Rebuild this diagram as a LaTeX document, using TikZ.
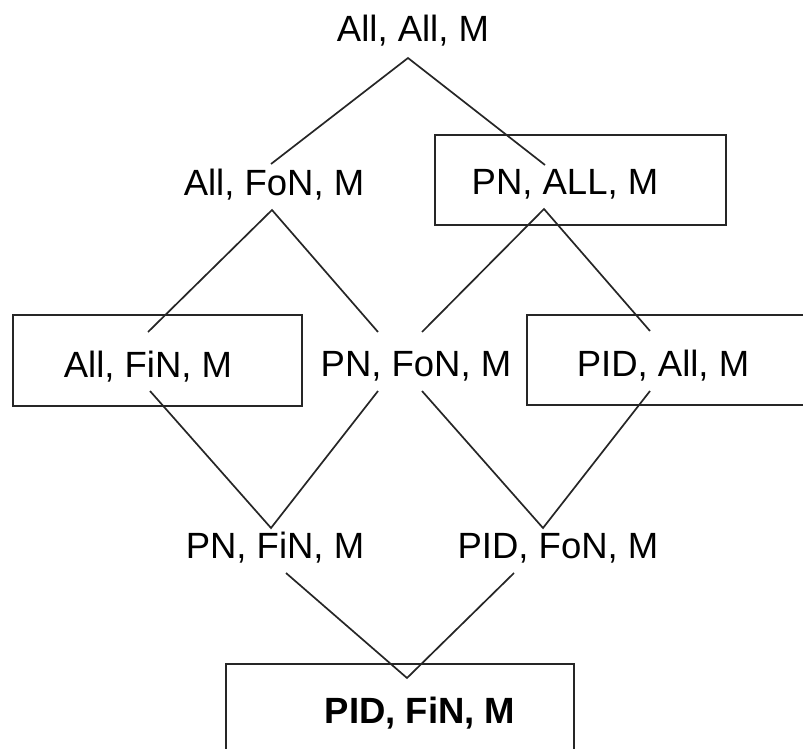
\documentclass[tikz,border=0pt]{standalone}
\usepackage{fontspec}
\setmainfont{Liberation Sans}
\begin{document}
\begin{tikzpicture}[x=1pt,y=-1pt,
  lbl/.style={anchor=base,inner sep=0pt,font=\fontsize{36.5}{40}\selectfont},
  edge/.style={line width=1.7pt,draw=black!85,line join=miter},
  frame/.style={line width=1.7pt,draw=black!85}]
\useasboundingbox (0,0) rectangle (803,749);
\clip (0,0) rectangle (803,749);
% boxes
\draw[frame] (435,135) rectangle (726,225);
\draw[frame] (13,315) rectangle (302,406);
\draw[frame] (527,315) rectangle (810,405);
\draw[frame] (226,664) rectangle (574,760);
% labels
\node[lbl] (aam) at (413,42) {All, All, M};
\node[lbl] (afn) at (274,195) {All, FoN, M};
\node[lbl] (pna) at (565,194) {PN, ALL, M};
\node[lbl] (afi) at (148,377) {All, FiN, M};
\node[lbl] (pnf) at (416,376) {PN, FoN, M};
\node[lbl] (pida) at (663,376) {PID, All, M};
\node[lbl] (pnfi) at (275,558) {PN, FiN, M};
\node[lbl] (pidf) at (558,558) {PID, FoN, M};
\node[lbl,font=\fontsize{36.5}{40}\selectfont\bfseries] (pidfi) at (420,723) {PID, FiN, M};
% connector end points
\coordinate (aam-b) at (408,58);
\coordinate (afn-t) at (271,164);
\coordinate (pna-t) at (545,165);
\coordinate (afn-b) at (272,210);
\coordinate (pna-b) at (544,209);
\coordinate (afi-t) at (148,332);
\coordinate (pnf-tl) at (378,332);
\coordinate (pnf-tr) at (422,332);
\coordinate (pida-t) at (650,331);
\coordinate (afi-b) at (150,391);
\coordinate (pnf-bl) at (378,391);
\coordinate (pnf-br) at (422,391);
\coordinate (pida-b) at (650,391);
\coordinate (pnfi-t) at (271,528);
\coordinate (pidf-t) at (543,528);
\coordinate (pnfi-b) at (286,573);
\coordinate (pidf-b) at (514,573);
\coordinate (pidfi-t) at (407,678);
% connectors
\draw[edge] (afn-t) -- (aam-b) -- (pna-t);
\draw[edge] (afi-t) -- (afn-b) -- (pnf-tl);
\draw[edge] (pnf-tr) -- (pna-b) -- (pida-t);
\draw[edge] (afi-b) -- (pnfi-t) -- (pnf-bl);
\draw[edge] (pnf-br) -- (pidf-t) -- (pida-b);
\draw[edge] (pnfi-b) -- (pidfi-t) -- (pidf-b);
\end{tikzpicture}
\end{document}
